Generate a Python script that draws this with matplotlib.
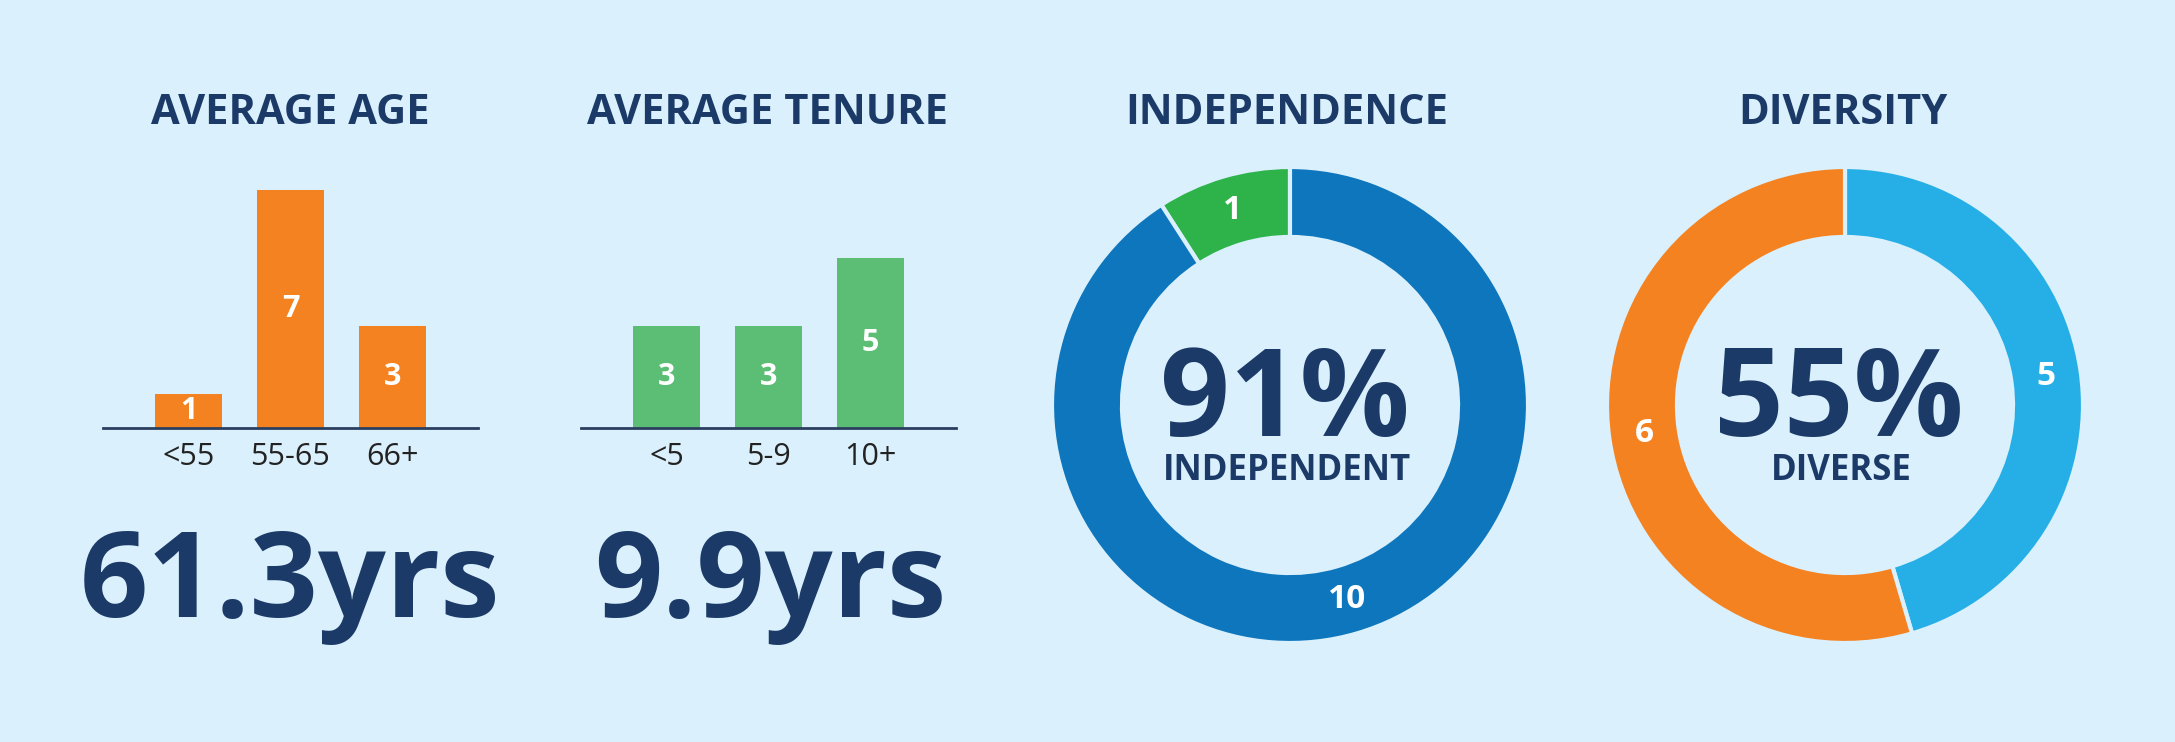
import matplotlib
matplotlib.use("Agg")
import matplotlib.pyplot as plt

# ---- data ----
age_categories = ["<55", "55-65", "66+"]
age_counts = [1, 7, 3]
tenure_categories = ["<5", "5-9", "10+"]
tenure_counts = [3, 3, 5]
independence_labels = ["Not independent", "Independent"]
independence_counts = [1, 10]
diversity_labels = ["Diverse", "Not diverse"]
diversity_counts = [5, 6]

titles = ["AVERAGE AGE", "AVERAGE TENURE", "INDEPENDENCE", "DIVERSITY"]
avg_age_text = "61.3yrs"
avg_tenure_text = "9.9yrs"
independence_pct_text = "91%"
independence_caption = "INDEPENDENT"
diversity_pct_text = "55%"
diversity_caption = "DIVERSE"

# ---- style ----
BG = "#DAF0FC"
NAVY = "#1B3A68"
ORANGE = "#F58220"
BAR_GREEN = "#5CBD74"
DONUT_GREEN = "#2DB34A"
DONUT_BLUE = "#0E76BD"
LIGHT_BLUE = "#26AFE6"
FONT = ["Open Sans", "DejaVu Sans"]
plt.rcParams["font.family"] = FONT

W, H = 2175, 742
fig = plt.figure(figsize=(W / 100, H / 100), dpi=100, facecolor=BG)


def fx(px):
    return px / W


def fy(py):
    return 1 - py / H


def bar_panel(left_px, cats, vals, color):
    base = 428
    unit = 34
    ymax = 8
    width_px = 375
    ax = fig.add_axes([fx(left_px), fy(base), width_px / W, unit * ymax / H])
    ax.set_facecolor("none")
    x = list(range(len(cats)))
    bars = ax.bar(x, vals, width=0.655, color=color)
    ax.bar_label(bars, labels=[str(v) for v in vals], label_type="center",
                 color="white", fontsize=22, fontweight="bold")
    ax.set_xlim(-0.842, 2.842)
    ax.set_ylim(0, ymax)
    for s in ["left", "right", "top"]:
        ax.spines[s].set_visible(False)
    ax.spines["bottom"].set_color("#2A3F5F")
    ax.spines["bottom"].set_linewidth(2)
    ax.set_yticks([])
    ax.set_xticks(x)
    ax.set_xticklabels(cats, fontsize=22, color="#222222")
    ax.tick_params(axis="x", length=0, pad=10)
    return ax


bar_panel(103, age_categories, age_counts, ORANGE)
bar_panel(581, tenure_categories, tenure_counts, BAR_GREEN)


def donut_panel(cx, cy, vals, colors, counterclock):
    r = 238
    ax = fig.add_axes([fx(cx - r), fy(cy + r), 2 * r / W, 2 * r / H])
    ax.set_facecolor("none")
    total = sum(vals)
    ax.pie(vals, colors=colors, startangle=90, counterclock=counterclock,
           radius=1.0,
           wedgeprops=dict(width=0.294, edgecolor=BG, linewidth=3),
           autopct=lambda p: f"{round(p * total / 100)}", pctdistance=0.853,
           textprops=dict(color="white", fontsize=24, fontweight="bold"))
    ax.set_xlim(-1, 1)
    ax.set_ylim(-1, 1)
    ax.set_aspect("equal")
    ax.axis("off")
    return ax


donut_panel(1290, 405, independence_counts, [DONUT_GREEN, DONUT_BLUE], True)
donut_panel(1845, 405, diversity_counts, [LIGHT_BLUE, ORANGE], False)

# titles
for cx, t in zip([290, 768, 1287, 1843], titles):
    fig.text(fx(cx), fy(113), t, ha="center", va="center", fontsize=30,
             fontweight="bold", color=NAVY)

# big numbers
fig.text(fx(290), fy(617), avg_age_text, ha="center", va="baseline",
         fontsize=86, fontweight="bold", color=NAVY)
fig.text(fx(770), fy(617), avg_tenure_text, ha="center", va="baseline",
         fontsize=86, fontweight="bold", color=NAVY)

# donut centers
fig.text(fx(1285), fy(436), independence_pct_text, ha="center", va="baseline",
         fontsize=88, fontweight="bold", color=NAVY)
fig.text(fx(1287), fy(480), independence_caption, ha="center", va="baseline",
         fontsize=25, fontweight="bold", color=NAVY)
fig.text(fx(1839), fy(436), diversity_pct_text, ha="center", va="baseline",
         fontsize=88, fontweight="bold", color=NAVY)
fig.text(fx(1841), fy(480), diversity_caption, ha="center", va="baseline",
         fontsize=25, fontweight="bold", color=NAVY)

fig.savefig("out.png", dpi=100, facecolor=BG)
